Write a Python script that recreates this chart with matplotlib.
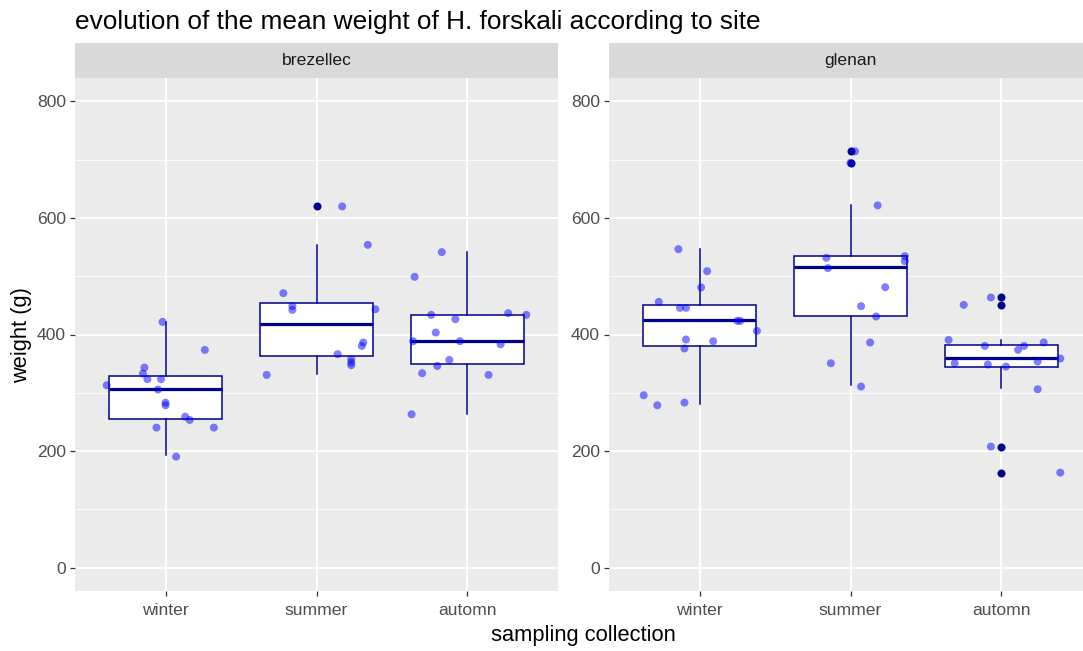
import matplotlib
matplotlib.use("Agg")
import matplotlib.pyplot as plt
from matplotlib.patches import Rectangle

plt.rcParams['font.family'] = ['Liberation Sans', 'DejaVu Sans']

seasons = ["winter", "summer", "automn"]
sites = ["brezellec", "glenan"]

# individual weights (g) and their horizontal jitter (category units)
brezellec_winter = [421.6, 373.6, 343.3, 333.0, 323.3, 323.3, 313.0, 305.6, 283.0, 278.6,
                    259.0, 253.4, 240.3, 240.3, 190.5]
brezellec_winter_jit = [-0.02, 0.26, -0.14, -0.15, -0.12, -0.03, -0.39, -0.05, 0.0, 0.0,
                        0.13, 0.16, -0.06, 0.32, 0.07]
brezellec_summer = [619.7, 553.8, 470.9, 449.0, 442.2, 443.4, 386.3, 380.4, 366.2, 357.6,
                    351.9, 347.3, 330.6]
brezellec_summer_jit = [0.17, 0.34, -0.22, -0.16, -0.16, 0.39, 0.31, 0.30, 0.14, 0.23,
                        0.23, 0.23, -0.33]
brezellec_automn = [541.3, 498.9, 433.7, 426.3, 436.6, 433.7, 403.4, 388.5, 388.5, 383.3,
                    356.4, 346.1, 333.6, 330.7, 263.2]
brezellec_automn_jit = [-0.17, -0.35, -0.24, -0.08, 0.27, 0.39, -0.21, -0.36, -0.05, 0.22,
                        -0.12, -0.20, -0.30, 0.14, -0.37]

glenan_winter = [546.4, 508.7, 480.7, 456.0, 445.7, 445.7, 423.4, 423.4, 406.2, 391.4,
                 388.5, 376.0, 295.8, 278.6, 283.2]
glenan_winter_jit = [-0.14, 0.05, 0.01, -0.27, -0.13, -0.09, 0.25, 0.27, 0.38, -0.09,
                     0.09, -0.10, -0.37, -0.28, -0.10]
glenan_summer = [714.2, 694.6, 621.5, 531.5, 534.4, 525.8, 513.8, 481.2, 448.6, 430.9,
                 386.3, 350.7, 310.7]
glenan_summer_jit = [0.03, 0.0, 0.18, -0.16, 0.36, 0.36, -0.15, 0.23, 0.07, 0.17,
                     0.13, -0.13, 0.07]
glenan_automn = [463.5, 450.8, 390.7, 380.4, 380.4, 386.3, 373.6, 358.8, 350.7, 348.5,
                 345.0, 353.6, 306.1, 207.7, 163.1]
glenan_automn_jit = [-0.07, -0.25, -0.35, -0.11, 0.15, 0.28, 0.11, 0.39, -0.31, -0.09,
                     0.03, 0.24, 0.24, -0.07, 0.39]

# box statistics per season: lower whisker, q1, median, q3, upper whisker
brezellec_lo = [192.8, 332.0, 264.4]
brezellec_q1 = [255.8, 363.3, 350.2]
brezellec_med = [307.0, 417.5, 389.7]
brezellec_q3 = [328.0, 453.5, 433.7]
brezellec_hi = [421.0, 553.8, 541.8]
brezellec_out = [[], [619.7], []]

glenan_lo = [280.3, 313.0, 307.8]
glenan_q1 = [380.4, 430.9, 345.0]
glenan_med = [425.7, 515.5, 359.8]
glenan_q3 = [450.3, 533.9, 382.8]
glenan_hi = [546.4, 621.5, 390.7]
glenan_out = [[], [714.2, 694.6], [464.6, 450.8, 207.7, 163.1]]

panels = {
    "brezellec": dict(
        points=[brezellec_winter, brezellec_summer, brezellec_automn],
        jitter=[brezellec_winter_jit, brezellec_summer_jit, brezellec_automn_jit],
        lo=brezellec_lo, q1=brezellec_q1, med=brezellec_med, q3=brezellec_q3,
        hi=brezellec_hi, out=brezellec_out),
    "glenan": dict(
        points=[glenan_winter, glenan_summer, glenan_automn],
        jitter=[glenan_winter_jit, glenan_summer_jit, glenan_automn_jit],
        lo=glenan_lo, q1=glenan_q1, med=glenan_med, q3=glenan_q3,
        hi=glenan_hi, out=glenan_out),
}

NAVY = "#00008B"
W, H = 1083, 651
fig = plt.figure(figsize=(W / 100, H / 100), dpi=100)

panel_w = 483 / W
panel_b = 1 - 591 / H
panel_h = 513 / H
lefts = [75 / W, 609 / W]

for site, left in zip(sites, lefts):
    ax = fig.add_axes([left, panel_b, panel_w, panel_h])
    d = panels[site]
    ax.set_facecolor("#EBEBEB")
    for s in ax.spines.values():
        s.set_visible(False)

    ax.set_xlim(0.4, 3.6)
    ax.set_ylim(-40, 840)
    ax.set_yticks([0, 200, 400, 600, 800])
    ax.set_yticks([100, 300, 500, 700], minor=True)
    ax.set_xticks([1, 2, 3])
    ax.set_xticklabels(seasons)
    ax.grid(which="major", color="white", linewidth=1.3)
    ax.grid(which="minor", axis="y", color="white", linewidth=0.6)
    ax.set_axisbelow(True)
    ax.tick_params(which="major", length=3.5, width=0.9, color="#333333",
                   labelcolor="#4D4D4D", labelsize=12.6, pad=3)
    ax.tick_params(which="minor", length=0)
    ax.tick_params(axis="x", pad=5)

    stats = []
    for i in range(3):
        stats.append(dict(whislo=d["lo"][i], q1=d["q1"][i], med=d["med"][i],
                          q3=d["q3"][i], whishi=d["hi"][i], fliers=d["out"][i]))
    ax.bxp(stats, positions=[1, 2, 3], widths=0.75, showcaps=False,
           patch_artist=True, manage_ticks=False,
           boxprops=dict(facecolor="white", edgecolor=NAVY, linewidth=1.1),
           medianprops=dict(color=NAVY, linewidth=2.3, solid_capstyle="butt"),
           whiskerprops=dict(color=NAVY, linewidth=1.1),
           flierprops=dict(marker="o", markerfacecolor=NAVY, markeredgecolor="none",
                           markersize=5.8))

    for i in range(3):
        xs = [i + 1 + j for j in d["jitter"][i]]
        ax.scatter(xs, d["points"][i], s=33, color=(0, 0, 1, 0.5),
                   edgecolors="none", zorder=5)

    # facet strip
    strip_h = 35 / 513
    ax.add_patch(Rectangle((0, 1), 1, strip_h, transform=ax.transAxes,
                           facecolor="#D9D9D9", edgecolor="none", clip_on=False))
    ax.text(0.5, 1 + strip_h / 2, site, transform=ax.transAxes, ha="center",
            va="center", fontsize=12.6, color="#1A1A1A")

fig.text(75 / W, 1 - 29 / H, "evolution of the mean weight of H. forskali according to site",
         fontsize=18.9, color="black", ha="left", va="baseline")
fig.text(583.5 / W, 1 - 635 / H, "sampling collection", fontsize=15.75,
         ha="center", va="center")
fig.text(22 / W, 1 - 335 / H, "weight (g)", fontsize=15.75, rotation=90,
         ha="center", va="center")

fig.savefig("out.png", dpi=100)
